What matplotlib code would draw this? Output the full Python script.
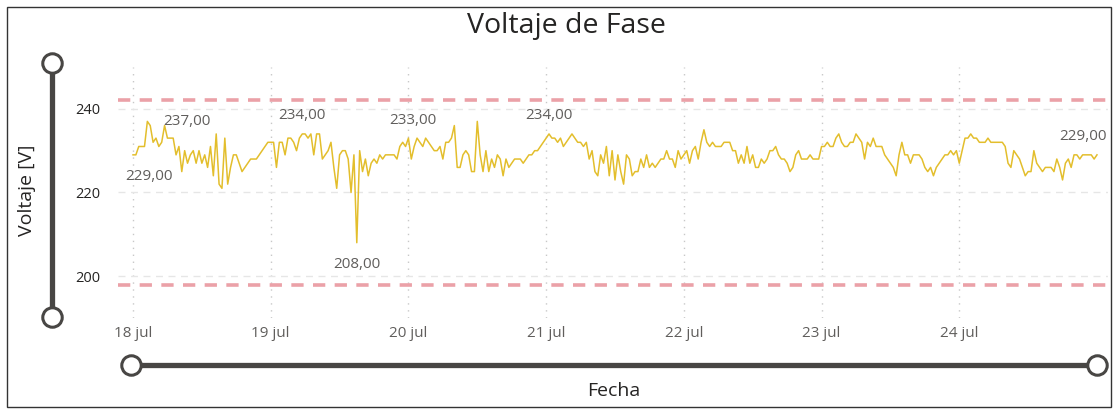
"""Voltaje de Fase: phase voltage, 18-25 jul, Power BI style line chart."""
import matplotlib

matplotlib.use("Agg")
import matplotlib.pyplot as plt
from matplotlib.lines import Line2D
from matplotlib.patches import Rectangle
import pandas as pd

plt.rcParams["font.family"] = ["Open Sans", "DejaVu Sans"]

# 30-minute readings (V), 18 jul 00:00 -> 25 jul 00:00
voltage = [
    229, 229, 231, 231, 231, 237, 236, 232, 233, 231, 232, 236, 233, 233, 233, 229,
    231, 225, 230, 227, 229, 230, 227, 230, 227, 229, 226, 231, 224, 234, 222, 221,
    233, 222, 226, 229, 229, 227, 225, 226, 227, 228, 228, 228, 229, 230, 231, 232,
    232, 232, 226, 232, 232, 229, 233, 233, 232, 230, 233, 234, 234, 233, 234, 229,
    234, 234, 228, 229, 230, 232, 226, 221, 229, 230, 230, 228, 220, 229, 208, 230,
    225, 228, 224, 227, 228, 227, 229, 228, 229, 229, 229, 229, 228, 231, 232, 231,
    233, 228, 231, 233, 232, 231, 233, 232, 231, 230, 230, 231, 228, 232, 232, 233,
    236, 226, 226, 229, 230, 229, 225, 225, 237, 229, 225, 230, 225, 228, 226, 229,
    228, 224, 228, 226, 227, 228, 228, 228, 227, 228, 229, 229, 230, 230, 231, 232,
    233, 234, 233, 233, 232, 233, 231, 232, 233, 234, 233, 232, 232, 231, 232, 228,
    230, 225, 224, 229, 227, 231, 224, 230, 223, 229, 225, 222, 229, 228, 224, 225,
    225, 228, 226, 229, 226, 227, 226, 227, 228, 228, 230, 228, 228, 226, 230, 228,
    229, 230, 227, 230, 231, 228, 232, 235, 232, 231, 232, 231, 231, 231, 232, 232,
    232, 230, 230, 227, 229, 227, 231, 227, 229, 226, 226, 228, 227, 228, 230, 230,
    231, 229, 228, 228, 227, 225, 226, 229, 230, 228, 228, 228, 229, 228, 228, 228,
    231, 231, 232, 231, 231, 233, 234, 232, 231, 231, 232, 232, 234, 233, 232, 228,
    232, 231, 233, 231, 231, 231, 229, 228, 227, 226, 224, 229, 232, 229, 229, 227,
    229, 229, 229, 228, 226, 225, 226, 224, 226, 227, 228, 229, 229, 230, 229, 230,
    227, 230, 233, 233, 234, 233, 233, 232, 232, 232, 233, 232, 232, 232, 232, 232,
    231, 227, 226, 230, 229, 228, 226, 224, 225, 225, 230, 227, 226, 225, 226, 226,
    226, 225, 228, 226, 223, 227, 228, 226, 229, 229, 228, 229, 229, 229, 229, 228,
    229,
]
limits = [242, 198]
day_labels = ["18 jul", "19 jul", "20 jul", "21 jul", "22 jul", "23 jul", "24 jul"]
# labelled points: index into voltage, text offset in pixels
label_idx = [0, 5, 59, 78, 96, 145, 336]
label_off = [(16, -22), (40, 0), (0, 18), (0, -22), (4, 18), (0, 18), (-14, 18)]

times = pd.date_range("2023-07-18", periods=len(voltage), freq="30min")
line_col = "#E3BE2C"
dark = "#252423"
grey = "#605E5C"

fig = plt.figure(figsize=(11.19, 4.09), dpi=100)
W, H = 1119, 409
ax = fig.add_axes([118 / W, 1 - 318 / H, (1108 - 118) / W, (318 - 67) / H])

ax.plot(times, voltage, color=line_col, lw=1.1, zorder=3)
for lim in limits:
    ax.axhline(lim, color="#EBA1A8", lw=2.6, ls=(0, (3.4, 2.6)), zorder=2)

t0 = times[0]
ax.set_xlim(t0 - pd.Timedelta(days=0.109), t0 + pd.Timedelta(days=7.08))
ax.set_ylim(190, 250)
ax.set_yticks([200, 220, 240])
ax.set_xticks(pd.date_range("2023-07-18", periods=len(day_labels), freq="D"))
ax.set_xticklabels(day_labels)
ax.tick_params(axis="y", length=0, pad=13, labelsize=10.5, labelcolor=dark)
ax.tick_params(axis="x", length=0, pad=6, labelsize=11, labelcolor=grey)
ax.grid(axis="y", color="#E6E6E6", ls=(0, (5, 4)), lw=1)
ax.grid(axis="x", color="#C8C8C8", ls=(0, (1, 4)), lw=1)
for s in ax.spines.values():
    s.set_visible(False)

for i, (dx, dy) in zip(label_idx, label_off):
    ax.annotate(f"{voltage[i]},00", (times[i], voltage[i]), xytext=(dx, dy),
                textcoords="offset pixels", ha="center", va="center",
                fontsize=11, color=grey, zorder=4)

# titles
fig.text(566 / W, 1 - 26 / H, "Voltaje de Fase", ha="center", va="center",
         fontsize=20.5, color=dark)
fig.text(27 / W, 1 - 190 / H, "Voltaje [V]", rotation=90, ha="center",
         va="center", fontsize=14, color=dark)
fig.text(614 / W, 1 - 391 / H, "Fecha", ha="center", va="center",
         fontsize=14, color=dark)

# zoom sliders
slider = dict(color="#484644", lw=3.8, marker="o", markersize=14,
              markerfacecolor="white", markeredgecolor="#484644",
              markeredgewidth=2.2, transform=fig.transFigure)
fig.add_artist(Line2D([52 / W, 52 / W], [1 - 63 / H, 1 - 317 / H], **slider))
fig.add_artist(Line2D([131 / W, 1097 / W], [1 - 365 / H, 1 - 365 / H], **slider))

# outer frame
fig.add_artist(Rectangle((7 / W, 1 - 407 / H), (1111 - 7) / W, 400 / H,
                         transform=fig.transFigure, fill=False,
                         edgecolor="#333333", lw=1))

fig.savefig("out.png", dpi=100)
